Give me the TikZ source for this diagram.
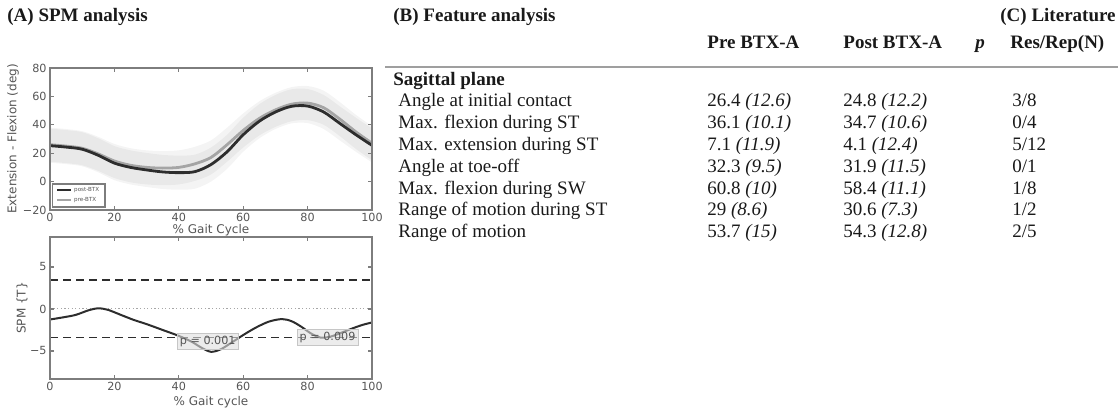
\documentclass[tikz,border=0pt]{standalone}
\usepackage{fontspec}
\setmainfont{Liberation Serif}
\newfontfamily\plotfnt{DejaVu Sans}
\usetikzlibrary{positioning}

\definecolor{axisgray}{RGB}{125,125,125}
\definecolor{labgray}{RGB}{85,85,85}
\definecolor{postcol}{RGB}{45,45,45}
\definecolor{precol}{RGB}{165,165,165}
\definecolor{inkcol}{RGB}{25,25,25}

\newcommand\tabfnt{\fontsize{9.5bp}{11bp}\selectfont}
\newcommand\tickfnt{\plotfnt\fontsize{5.6bp}{6.5bp}\selectfont}
\newcommand\axfnt{\plotfnt\fontsize{6bp}{7bp}\selectfont}
\newcommand\legfnt{\plotfnt\fontsize{2.8bp}{3bp}\selectfont}

\tikzset{
	title/.style={font={\tabfnt\bfseries}, text=inkcol, inner sep=0pt, anchor=base west},
	cell/.style={font=\tabfnt, text=inkcol, inner sep=0pt, anchor=base west},
	headcell/.style={cell, font={\tabfnt\bfseries}},
	ticklab/.style={font=\tickfnt, text=labgray, inner sep=1.5pt},
	axlab/.style={font=\axfnt, text=labgray, inner sep=0pt},
	spine/.style={draw=axisgray, line width=0.6bp},
	meanpost/.style={postcol, line width=1.4bp},
	meanpre/.style={precol, line width=1.4bp},
	sdband/.style={fill=black, fill opacity=0.045},
	thresh/.style={draw=postcol, line width=0.7bp, dash pattern=on 4bp off 2.5bp},
	pbox/.style={font=\tickfnt, text=labgray, fill=gray!25, fill opacity=0.6, text opacity=1, draw=gray!45, line width=0.4bp, inner sep=1.3pt},
}

\begin{document}
\begin{tikzpicture}[x=0.5bp,y=-0.5bp]
	\useasboundingbox (0,0) rectangle (1118,408);

	% panel titles
	\node[title] (titleA) at (7,22) {(A) SPM analysis};
	\node[title] (titleB) at (393,22) {(B) Feature analysis};
	\node[title, anchor=base east] (titleC) at (1116,22) {(C) Literature};

	% table head
	\node[headcell] (hpre) at (707,49) {Pre BTX-A};
	\node[headcell] (hpost) at (843,49) {Post BTX-A};
	\node[headcell] (hp) at (975,49) {\itshape p};
	\node[headcell] (hlit) at (1010,49) {Res/Rep(N)};
	\coordinate (ruleL) at (385,67);
	\coordinate (ruleR) at (1118,67);
	\draw[gray!75, line width=1bp] (ruleL) -- (ruleR);
	\node[headcell] (plane) at (393,86) {Sagittal plane};

	% table rows
	\foreach \lab/\pre/\presd/\post/\postsd/\ra/\rb [count=\i] in {
		Angle at initial contact/26.4/12.6/24.8/12.2/3/8,
		Max. flexion during ST/36.1/10.1/34.7/10.6/0/4,
		Max. extension during ST/7.1/11.9/4.1/12.4/5/12,
		Angle at toe-off/32.3/9.5/31.9/11.5/0/1,
		Max. flexion during SW/60.8/10/58.4/11.1/1/8,
		Range of motion during ST/29/8.6/30.6/7.3/1/2,
		Range of motion/53.7/15/54.3/12.8/2/5}{
		\node[cell] (lab\i) at (398,{107+21.8*(\i-1)}) {\lab};
		\node[cell] (pre\i) at (707,{107+21.8*(\i-1)}) {\pre\ \textit{(\presd)}};
		\node[cell] (post\i) at (843,{107+21.8*(\i-1)}) {\post\ \textit{(\postsd)}};
		\node[cell] (lit\i) at (1012,{107+21.8*(\i-1)}) {\ra/\rb};
	}

	% (A) top: joint angle curves
	\begin{scope}[shift={(50,181.6)}, x=1.61bp, y=0.71bp]
		\fill[sdband] plot[smooth] coordinates {(0,38) (5,37) (10,35.5) (15,31.5) (20,26.5) (25,23.5) (30,22) (35,21.5) (40,22) (45,24.5) (50,29) (55,38) (60,48) (65,56.5) (70,62.5) (75,66.5) (80,67.3) (85,64) (90,56) (95,47) (100,39)}
			-- plot[smooth] coordinates {(100,15) (95,23) (90,32) (85,40) (80,43.3) (75,42.5) (70,38.5) (65,32.5) (60,24) (55,14) (50,5) (45,0.5) (40,-2) (35,-2.5) (30,-2) (25,-0.5) (20,2.5) (15,7.5) (10,11.5) (5,13) (0,14)} -- cycle;
		\fill[sdband] plot[smooth] coordinates {(0,37.3) (5,36.3) (10,34.8) (15,30.5) (20,25) (25,22) (30,20.2) (35,18.8) (40,18.3) (45,19) (50,24) (55,33) (60,45) (65,54.5) (70,61) (75,65) (80,65.2) (85,61) (90,53) (95,45) (100,37.5)}
			-- plot[smooth] coordinates {(100,13.5) (95,21) (90,29) (85,37) (80,41.2) (75,41) (70,37) (65,30.5) (60,21) (55,9) (50,0) (45,-5) (40,-5.7) (35,-5.2) (30,-3.8) (25,-2) (20,1) (15,6.5) (10,10.8) (5,12.3) (0,13.3)} -- cycle;
		\draw[meanpre] plot[smooth] coordinates {(0,26) (5,25) (10,23.5) (15,19.5) (20,14.5) (25,11.5) (30,10) (35,9.5) (40,10) (45,12.5) (50,17) (55,26) (60,36) (65,44.5) (70,50.5) (75,54.5) (80,55.3) (85,52) (90,44) (95,35) (100,27)};
		\draw[meanpost] plot[smooth] coordinates {(0,25.3) (5,24.3) (10,22.8) (15,18.5) (20,13) (25,10) (30,8.2) (35,6.8) (40,6.3) (45,7) (50,12) (55,21) (60,33) (65,42.5) (70,49) (75,53) (80,53.2) (85,49) (90,41) (95,33) (100,25.5)};
		\draw[spine] (0,-20) rectangle (100,80);
		\foreach \t in {0,20,...,100}{
			\draw[spine] (\t,-20) -- (\t,-17.2) (\t,80) -- (\t,77.2);
			\node[ticklab, below] (xa\t) at (\t,-20) {\t};
		}
		\foreach \v/\vl [count=\k] in {-20/−20,0/0,20/20,40/40,60/60,80/80}{
			\draw[spine] (0,\v) -- (1.2,\v) (100,\v) -- (98.8,\v);
			\node[ticklab, left] (ya\k) at (0,\v) {\vl};
		}
		% legend
		\draw[spine, fill=white] (0.9,-1.7) rectangle (17.1,-17.9);
		\draw[postcol, line width=1bp] (2.2,-6.2) -- (6.4,-6.2);
		\node[font=\legfnt, text=labgray, anchor=west, inner sep=0pt] (legpost) at (7.4,-6.2) {post-BTX};
		\draw[precol, line width=1bp] (2.2,-13) -- (6.4,-13);
		\node[font=\legfnt, text=labgray, anchor=west, inner sep=0pt] (legpre) at (7.4,-13) {pre-BTX};
	\end{scope}
	\node[axlab, rotate=90] (ylabA) at (13,139) {Extension - Flexion (deg)};
	\node[axlab] (xlabA) at (211,230) {\% Gait Cycle};

	% (A) bottom: SPM{t}
	\begin{scope}[shift={(50,309)}, x=1.61bp, y=4.2bp]
		\draw[gray!70, line width=0.5bp, dash pattern=on 0.6bp off 1.2bp] (0,0) -- (100,0);
		\draw[thresh] (0,3.45) -- (100,3.45);
		\draw[thresh] (0,-3.4) -- (100,-3.4);
		\draw[postcol, line width=1bp] plot[smooth] coordinates {(0,-1.25) (4,-1.0) (8,-0.7) (12,-0.15) (15,0.08) (18,-0.1) (22,-0.7) (26,-1.3) (30,-1.8) (35,-2.5) (40,-3.2) (44,-3.9) (47,-4.6) (50,-5.1) (53,-4.8) (56,-4.1) (60,-3.1) (64,-2.2) (68,-1.5) (72,-1.2) (75,-1.45) (78,-2.1) (81,-2.9) (84,-3.4) (87,-3.3) (90,-2.9) (94,-2.3) (97,-1.9) (100,-1.6)};
		\node[pbox] (pone) at (49,-3.9) {p = 0.001};
		\node[pbox] (ptwo) at (86.2,-3.35) {p = 0.009};
		\draw[spine] (0,-8.33) rectangle (100,8.57);
		\foreach \t in {0,20,...,100}{
			\draw[spine] (\t,-8.33) -- (\t,-7.85) (\t,8.57) -- (\t,8.09);
			\node[ticklab, below] (xb\t) at (\t,-8.33) {\t};
		}
		\foreach \v/\vl [count=\k] in {-5/−5,0/0,5/5}{
			\draw[spine] (0,\v) -- (1.2,\v) (100,\v) -- (98.8,\v);
			\node[ticklab, left] (yb\k) at (0,\v) {\vl};
		}
	\end{scope}
	\node[axlab, rotate=90] (ylabB) at (22,308) {SPM \{T\}};
	\node[axlab] (xlabB) at (211,402) {\% Gait cycle};
\end{tikzpicture}
\end{document}
